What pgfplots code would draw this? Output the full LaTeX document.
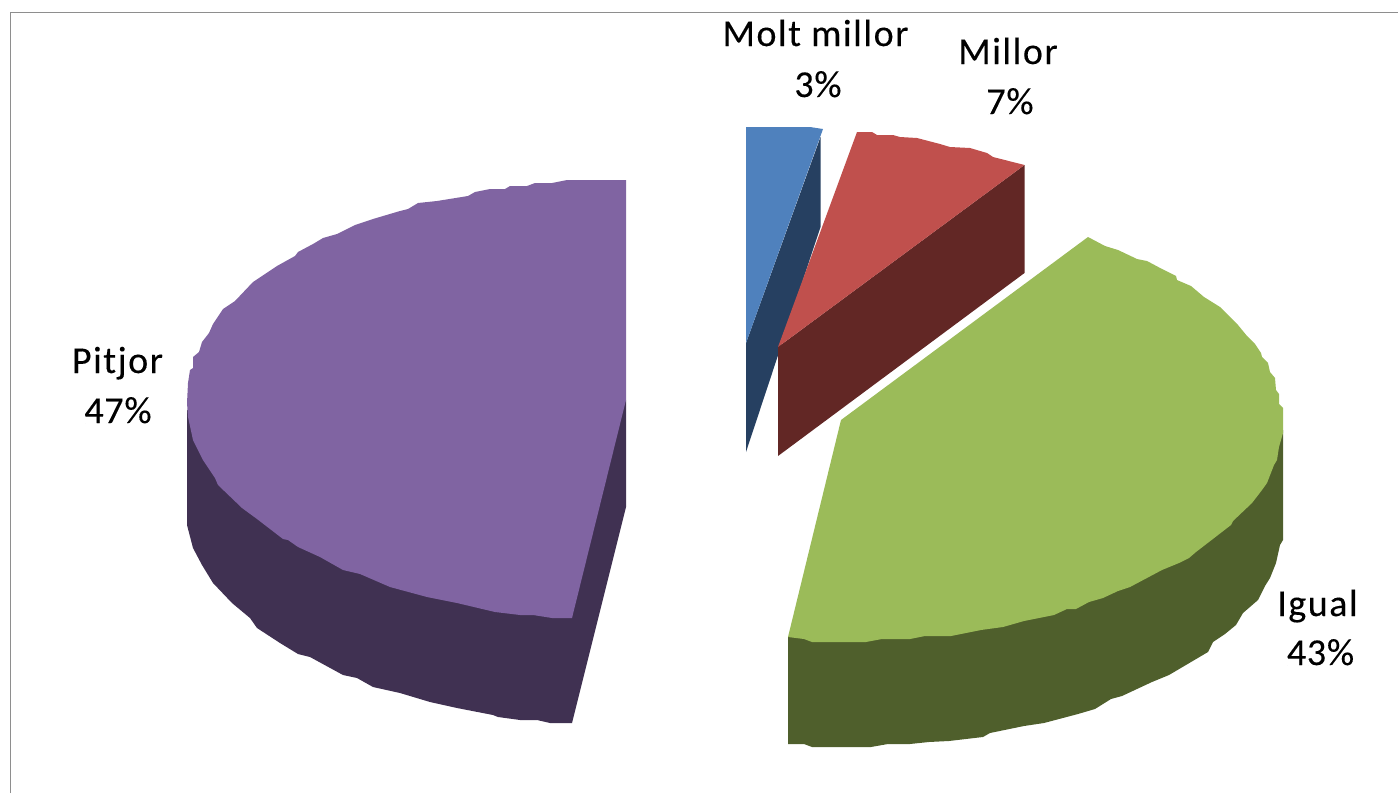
\documentclass[border=0pt]{standalone}
\usepackage{pgfplots}
\usepackage{fontspec}
\pgfplotsset{compat=1.18}
\setmainfont{Carlito}
\newfontfamily\lab[LetterSpace=4,FakeBold=0.2]{Carlito}
\newfontfamily\dig[LetterSpace=2,FakeBold=0.2]{Carlito}
\definecolor{blueT}{HTML}{4F81BD}
\definecolor{blueS}{HTML}{264061}
\definecolor{redT}{HTML}{C0504D}
\definecolor{redS}{HTML}{622725}
\definecolor{greenT}{HTML}{9BBB59}
\definecolor{greenS}{HTML}{4F5F2C}
\definecolor{purpT}{HTML}{8064A2}
\definecolor{purpS}{HTML}{403152}
\definecolor{frameC}{HTML}{8E8E8E}
\tikzset{lb/.style={font=\lab\fontsize{38}{46}\selectfont, anchor=base, text=black, inner sep=0pt},
 nb/.style={font=\dig\fontsize{38}{46}\selectfont, anchor=base, text=black, inner sep=0pt}}
\begin{document}
\begin{tikzpicture}
\begin{axis}[
  scale only axis, width=1398pt, height=793pt,
  xmin=0, xmax=1398, ymin=0, ymax=793, y dir=reverse,
  hide axis, clip=true,
]
\path[use as bounding box] (axis cs:0,0) rectangle (axis cs:1398,793);
% frame
\addplot[draw=frameC, line width=1.3pt, forget plot] coordinates {(10.5,793) (10.5,12.5) (1398,12.5)};
% Molt millor
\addplot[fill=blueS, draw=none, forget plot] coordinates {(820.5,137) (746,343) (746,452) (820.5,227)} -- cycle;
\addplot[fill=blueT, draw=none, forget plot] coordinates {(746,127) (810,127) (823,129) (746,343)} -- cycle;
% Millor
\addplot[fill=redS, draw=none, forget plot] coordinates {(1024.5,165) (778,347) (778,456) (1024.5,273)} -- cycle;
\addplot[fill=redT, draw=none, forget plot] coordinates {(857,132) (872,132) (877,135) (893,135) (900,137) (917,138) (940,144) (950,147) (970,148) (987,153) (993,157) (1024.5,165) (778,347)} -- cycle;
% Pitjor
\addplot[fill=purpS, draw=none, forget plot] coordinates {(187,410) (187,525) (193,548) (202,565) (213,583) (232,603) (250,618) (257,628) (280,643) (298,654) (310,657) (343,675) (357,678) (373,687) (400,693) (430,702) (457,708) (493,715) (498,717) (520,720) (537,720) (550,723) (572,723) (626,507) (626,400) (572,500) (300,450)} -- cycle;
\addplot[fill=purpT, draw=none, forget plot] coordinates {(626,180) (567,180) (552,183) (535,183) (527,186) (510,186) (505,189) (490,189) (475,192) (468,196) (437,201) (418,203) (408,209) (400,211) (373,219) (355,225) (337,234) (323,238) (313,244) (298,252) (295,256) (277,266) (253,282) (235,301) (223,309) (213,324) (209,333) (202,342) (199,352) (193,357) (193,368) (190,370) (188,383) (187,403) (188,417) (193,440) (203,460) (215,478) (218,485) (242,508) (257,519) (283,539) (288,540) (298,547) (320,557) (343,570) (360,574) (390,587) (427,597) (457,603) (495,612) (520,615) (533,615) (552,618) (572,618) (626,400)} -- cycle;
% Igual
\addplot[fill=greenS, draw=none, forget plot] coordinates {(1283,430) (1283,540) (1280,545) (1276,563) (1270,578) (1265,586) (1258,600) (1243,613) (1236,625) (1225,634) (1213,642) (1208,652) (1169,675) (1152,682) (1122,696) (1111,699) (1095,709) (1078,714) (1044,723) (1024,726) (990,733) (983,737) (949,741) (929,742) (910,744) (888,744) (871,747) (812,747) (804,744) (788,744) (788,637) (1000,560)} -- cycle;
\addplot[fill=greenT, draw=none, forget plot] coordinates {(1088,237) (1105,246) (1118,250) (1137,259) (1147,261) (1162,269) (1176,276) (1177,280) (1191,286) (1204,297) (1220,307) (1238,325) (1247,336) (1255,344) (1261,353) (1262,357) (1268,363) (1270,372) (1275,378) (1276,390) (1279,394) (1279,404) (1283,408) (1283,433) (1279,447) (1277,460) (1274,465) (1267,483) (1262,490) (1252,503) (1233,521) (1231,525) (1209,542) (1196,552) (1189,558) (1179,563) (1162,570) (1130,587) (1118,591) (1103,598) (1089,602) (1076,609) (1067,609) (1054,615) (1024,621) (1003,627) (981,630) (951,636) (925,636) (910,639) (882,639) (866,642) (812,642) (804,639) (788,637) (841,420)} -- cycle;
% labels
\node[lb] at (axis cs:815.5,46) {Molt millor};
\node[nb] at (axis cs:818,97) {3\%};
\node[lb] at (axis cs:1008,64) {Millor};
\node[nb] at (axis cs:1010,114) {7\%};
\node[lb] at (axis cs:117.5,373) {Pitjor};
\node[nb] at (axis cs:118,423) {47\%};
\node[lb] at (axis cs:1317.5,616) {Igual};
\node[nb] at (axis cs:1320.5,665) {43\%};
\end{axis}
\end{tikzpicture}
\end{document}
